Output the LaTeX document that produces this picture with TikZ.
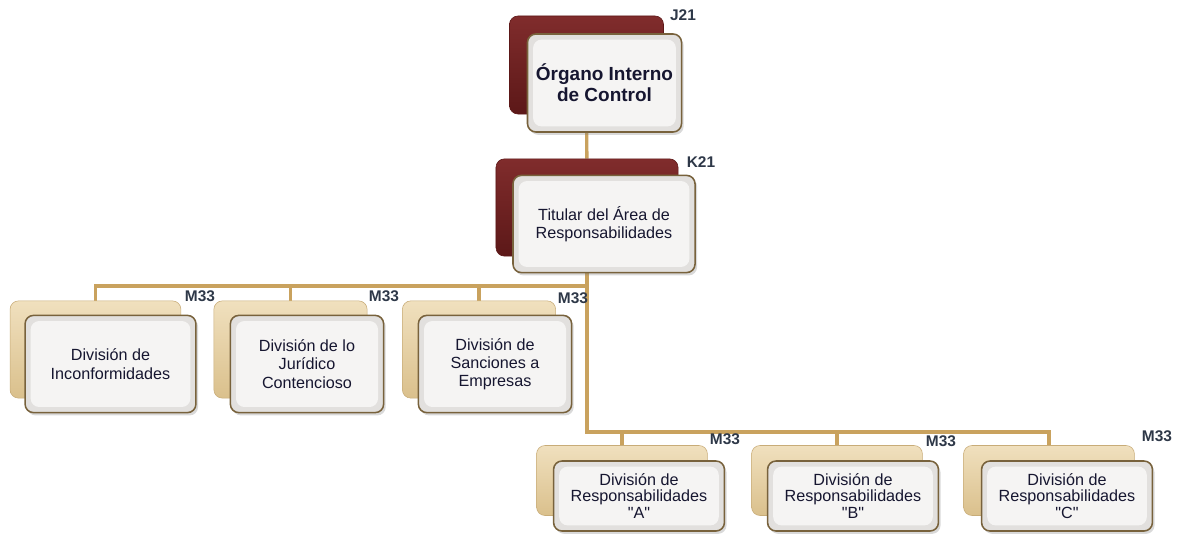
\documentclass[tikz,border=0pt]{standalone}
\usepackage{fontspec}
\setmainfont{Liberation Sans}[Ligatures=TeXOff]
\usetikzlibrary{backgrounds,shadows}

\definecolor{linkgold}{RGB}{201,162,94}
\definecolor{redtop}{RGB}{128,44,44}
\definecolor{redbot}{RGB}{92,24,24}
\definecolor{tantop}{RGB}{240,224,190}
\definecolor{tanbot}{RGB}{218,192,140}
\definecolor{tanedge}{RGB}{200,172,120}
\definecolor{frame}{RGB}{120,98,60}
\definecolor{frontgray}{RGB}{226,224,222}
\definecolor{frontlight}{RGB}{245,244,243}
\definecolor{txt}{RGB}{22,22,48}
\definecolor{labgray}{RGB}{46,56,72}

\begin{document}
\begin{tikzpicture}[
    x=0.025cm, y=-0.025cm,
    unit/.style={
        rounded corners=6pt,
        inner sep=2pt,
        align=center,
        text=txt,
        font=\fontsize{11.5}{13}\selectfont
    },
    backred/.style={unit, top color=redtop, bottom color=redbot, draw=redbot},
    backtan/.style={unit, top color=tantop, bottom color=tanbot, draw=tanedge},
    front/.style={
        unit, draw=frame, line width=1.1pt, fill=frontgray,
        drop shadow={opacity=0.3, shadow xshift=1.5pt, shadow yshift=-2pt},
        path picture={\fill[frontlight]
            ([shift={(4pt,-4pt)}]path picture bounding box.north west) rectangle
            ([shift={(-4pt,4pt)}]path picture bounding box.south east);}
    },
    topsize/.style={minimum width=3.85cm, minimum height=2.45cm},
    titsize/.style={minimum width=4.55cm, minimum height=2.43cm},
    onesize/.style={minimum width=3.83cm, minimum height=2.43cm},
    twosize/.style={minimum width=4.27cm, minimum height=1.75cm},
    lab/.style={font=\bfseries\fontsize{11}{12}\selectfont, text=labgray, inner sep=1pt},
    link/.style={draw=linkgold, line width=2.4pt}
]
    \useasboundingbox (0,0) rectangle (1182,533);

    % head of the organ
    \node[backred, topsize] (oic-b) at (586.5,65) {};
    \node[front, topsize, font=\bfseries\fontsize{13.5}{15}\selectfont] (oic) at (604.5,83) {Órgano Interno\\de Control};
    \node[lab] (j21) at (683,15) {J21};

    \node[backred, titsize] (tit-b) at (587,207.5) {};
    \node[front, titsize] (tit) at (604,224) {Titular del Área de\\Responsabilidades};
    \node[lab] (k21) at (701,162) {K21};

    % first row of divisions
    \node[backtan, twosize, minimum height=2.43cm] (inc-b) at (95.5,349.5) {};
    \node[front, twosize, minimum height=2.43cm] (inc) at (110.5,364) {División de\\Inconformidades};
    \node[lab] (m1) at (200,296) {M33};

    \node[backtan, onesize] (jur-b) at (290.5,349.5) {};
    \node[front, onesize] (jur) at (307,364) {División de lo\\Jurídico\\Contencioso};
    \node[lab] (m2) at (384,296) {M33};

    \node[backtan, onesize] (san-b) at (479,349.5) {};
    \node[front, onesize] (san) at (495,364) {División de\\Sanciones a\\Empresas};
    \node[lab] (m3) at (573,298) {M33};

    % second row of divisions
    \node[backtan, twosize] (ra-b) at (622,480.5) {};
    \node[front, twosize, font=\fontsize{11.5}{11.8}\selectfont] (ra) at (639,496) {División de\\Responsabilidades\\"A"};
    \node[lab] (m4) at (725,439) {M33};

    \node[backtan, twosize] (rb-b) at (837,480.5) {};
    \node[front, twosize, font=\fontsize{11.5}{11.8}\selectfont] (rb) at (853,496) {División de\\Responsabilidades\\"B"};
    \node[lab] (m5) at (941,441) {M33};

    \node[backtan, twosize] (rc-b) at (1049,480.5) {};
    \node[front, twosize, font=\fontsize{11.5}{11.8}\selectfont] (rc) at (1067,496) {División de\\Responsabilidades\\"C"};
    \node[lab] (m6) at (1157,436) {M33};

    % connectors behind the boxes
    \begin{scope}[on background layer]
        \coordinate (bus1) at (587,286);
        \coordinate (bus2) at (587,432);
        \draw[link] (oic-b) -- (tit-b);
        \draw[link] (tit-b) -- (bus2) -| (rc-b);
        \draw[link] (bus1) -| (inc-b);
        \draw[link] (bus1) -| (jur-b);
        \draw[link] (bus1) -| (san-b);
        \draw[link] (bus2) -| (ra-b);
        \draw[link] (bus2) -| (rb-b);
    \end{scope}
\end{tikzpicture}
\end{document}
